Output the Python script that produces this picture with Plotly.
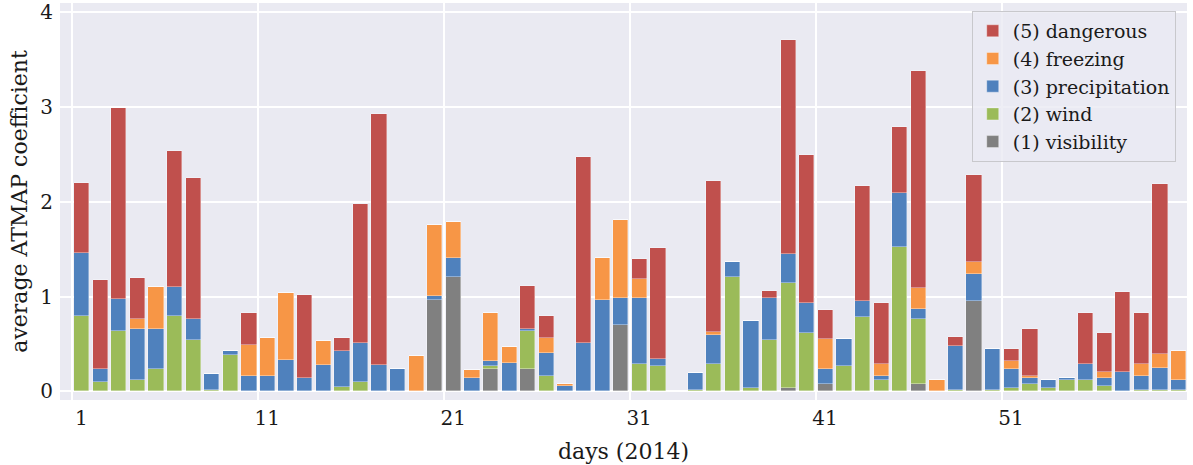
import plotly.graph_objects as go

days = list(range(1, 61))

visibility = [0, 0, 0, 0, 0, 0, 0, 0, 0, 0,
              0, 0, 0, 0, 0, 0, 0, 0, 0, 0.97,
              1.21, 0, 0.24, 0, 0.24, 0, 0, 0, 0, 0.705,
              0, 0, 0, 0, 0, 0, 0, 0, 0.04, 0,
              0.08, 0, 0, 0, 0, 0.077, 0, 0, 0.95, 0,
              0, 0, 0, 0, 0, 0, 0, 0, 0, 0]
wind = [0.80, 0.095, 0.64, 0.12, 0.24, 0.80, 0.54, 0.02, 0.39, 0,
        0, 0, 0, 0, 0.05, 0.095, 0, 0, 0, 0,
        0, 0, 0.025, 0, 0.395, 0.16, 0, 0, 0, 0,
        0.29, 0.265, 0, 0.02, 0.29, 1.21, 0.04, 0.54, 1.10, 0.62,
        0, 0.265, 0.79, 0.12, 1.52, 0.69, 0, 0.02, 0, 0.02,
        0.04, 0.077, 0.04, 0.12, 0.12, 0.056, 0, 0.02, 0.02, 0.02]
precipitation = [0.66, 0.145, 0.335, 0.54, 0.42, 0.30, 0.23, 0.16, 0.04, 0.16,
                 0.16, 0.33, 0.145, 0.28, 0.38, 0.42, 0.28, 0.24, 0, 0.04,
                 0.20, 0.14, 0.06, 0.30, 0.025, 0.25, 0.056, 0.51, 0.97, 0.285,
                 0.70, 0.08, 0, 0.18, 0.31, 0.16, 0.705, 0.45, 0.315, 0.31,
                 0.16, 0.29, 0.165, 0.04, 0.58, 0.10, 0, 0.455, 0.29, 0.43,
                 0.20, 0.064, 0.08, 0.02, 0.165, 0.085, 0.205, 0.145, 0.225, 0.10]
freezing = [0, 0, 0, 0.10, 0.44, 0, 0, 0, 0, 0.335,
            0.40, 0.71, 0, 0.25, 0, 0, 0, 0, 0.37, 0.75,
            0.38, 0.085, 0.50, 0.17, 0, 0.15, 0.02, 0, 0.44, 0.82,
            0.195, 0, 0, 0, 0.025, 0, 0, 0, 0, 0,
            0.315, 0, 0, 0.125, 0, 0.23, 0.12, 0, 0.13, 0,
            0.085, 0.02, 0, 0, 0, 0.064, 0, 0.125, 0.15, 0.31]
dangerous = [0.74, 0.94, 2.02, 0.44, 0, 1.44, 1.48, 0, 0, 0.335,
             0, 0, 0.87, 0, 0.13, 1.46, 2.65, 0, 0, 0,
             0, 0, 0, 0, 0.455, 0.24, 0, 1.965, 0, 0,
             0.21, 1.17, 0, 0, 1.6, 0, 0, 0.07, 2.25, 1.57,
             0.31, 0, 1.21, 0.645, 0.69, 2.29, 0, 0.105, 0.92, 0,
             0.125, 0.50, 0, 0, 0.545, 0.416, 0.85, 0.54, 1.79, 0]

series = [
    ("(1) visibility", visibility, "#808080"),
    ("(2) wind", wind, "#9BBB59"),
    ("(3) precipitation", precipitation, "#4F81BD"),
    ("(4) freezing", freezing, "#F79646"),
    ("(5) dangerous", dangerous, "#C0504D"),
]

tick_days = days[::10]

FONT = "DejaVu Serif"
TXT = "#1a1a1a"

fig = go.Figure()
for name, vals, color in series:
    fig.add_trace(go.Bar(
        x=days, y=vals, name=name,
        marker=dict(color=color, line=dict(color="rgba(255,255,255,0.45)", width=0.8)),
        offset=0.09, width=0.82,
    ))

fig.update_layout(
    width=1193, height=465, autosize=False,
    barmode="stack",
    plot_bgcolor="#EAEAF2", paper_bgcolor="white",
    margin=dict(l=60, r=6, t=3, b=65),
    font=dict(family=FONT, size=20, color=TXT),
    showlegend=True,
    legend=dict(
        traceorder="reversed",
        x=0.99, xanchor="right", y=0.98, yanchor="top",
        bgcolor="rgba(234,234,242,0.8)", bordercolor="#C8C8CC", borderwidth=1,
        font=dict(family=FONT, size=19, color=TXT),
        itemwidth=30, tracegroupgap=0,
    ),
    xaxis=dict(
        range=[0.34, 60.95],
        tickvals=tick_days, ticktext=[str(d) for d in tick_days],
        showgrid=True, gridcolor="white", gridwidth=1.5,
        zeroline=False, showline=False, ticks="",
        ticklabelstandoff=4, ticklabelshift=9, automargin=False,
        tickfont=dict(family=FONT, size=20, color=TXT),
        title=dict(text="days (2014)", font=dict(family=FONT, size=22, color=TXT), standoff=14),
    ),
    yaxis=dict(
        range=[-0.09, 4.1],
        tickvals=[0, 1, 2, 3, 4],
        showgrid=True, gridcolor="white", gridwidth=1.5,
        zeroline=False, showline=False, ticks="",
        ticklabelstandoff=6, automargin=False,
        tickfont=dict(family=FONT, size=20, color=TXT),
        title=dict(text="average ATMAP coefficient", font=dict(family=FONT, size=22, color=TXT), standoff=6),
    ),
    bargap=0,
)

fig.write_html("out.html", config={"displayModeBar": False},
               post_script="document.body.style.margin='0';")
